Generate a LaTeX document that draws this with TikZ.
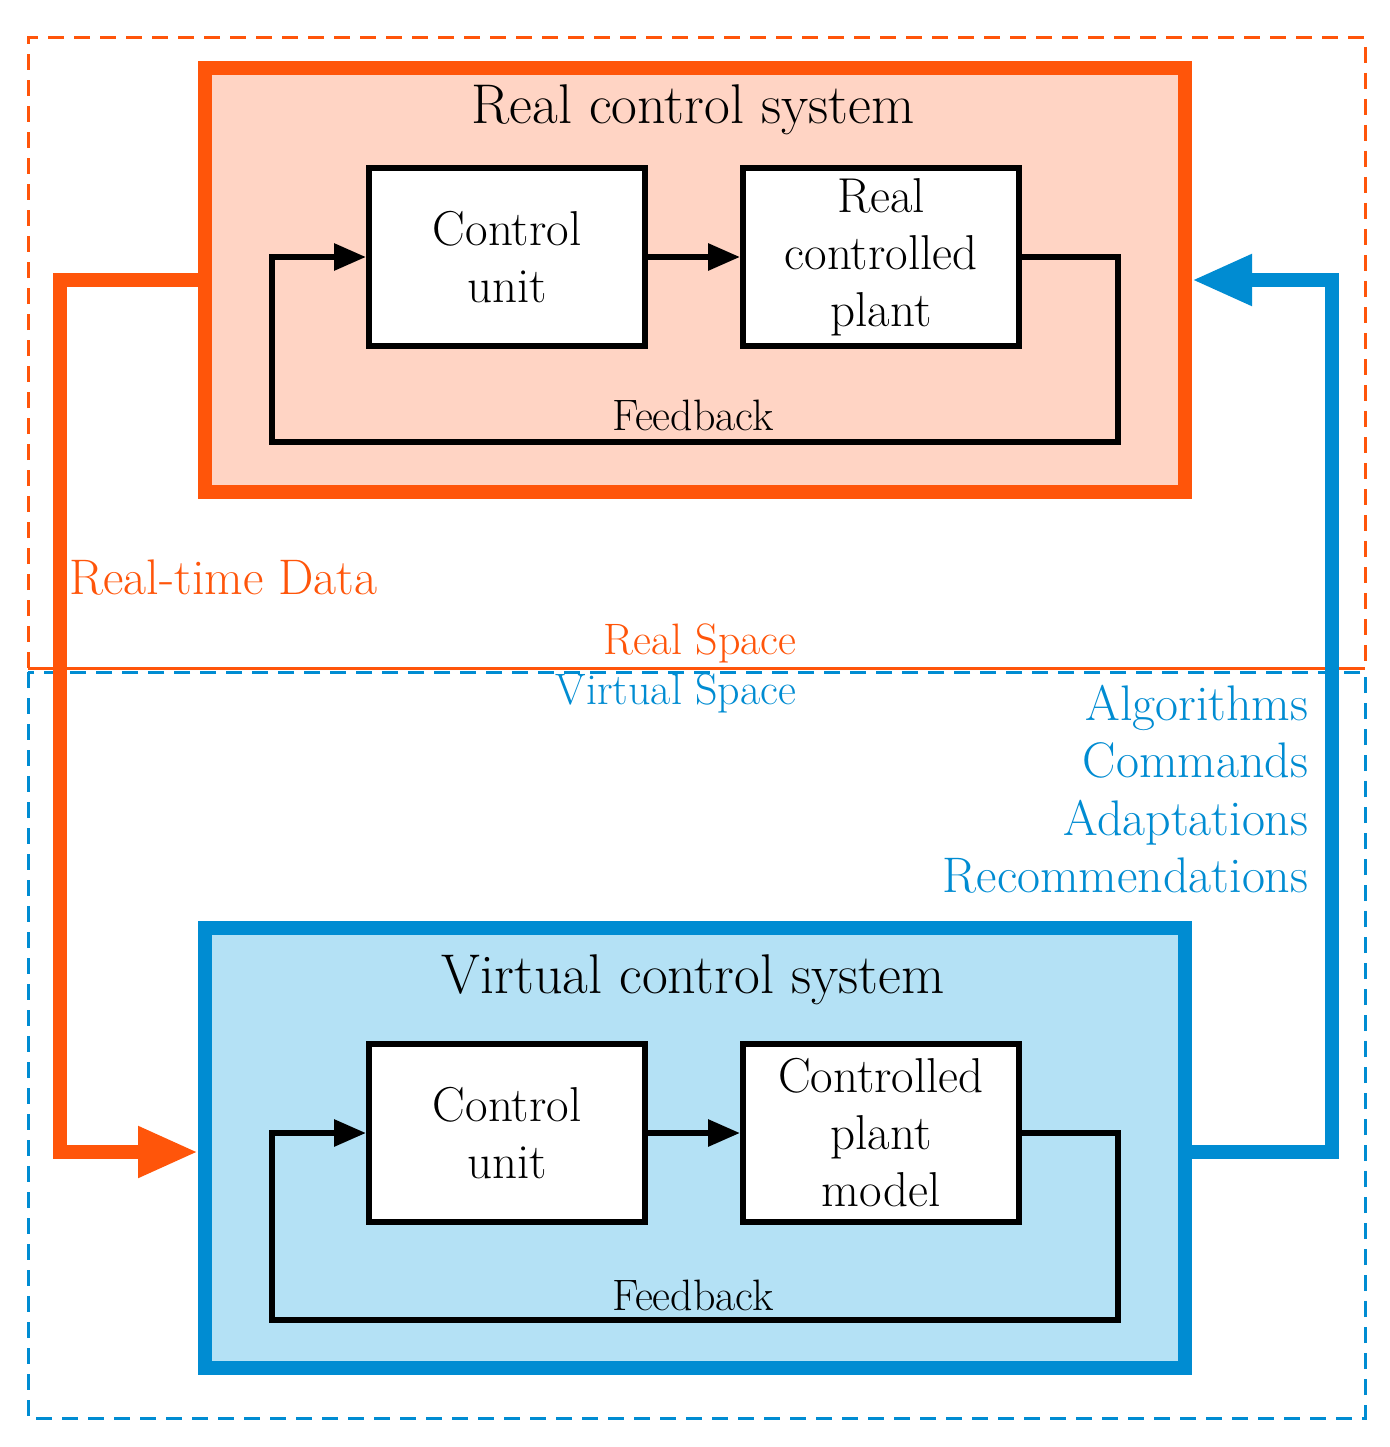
\documentclass[tikz,border=0pt]{standalone}
\usetikzlibrary{arrows.meta}
\definecolor{ora}{RGB}{255,85,10}
\definecolor{peach}{RGB}{255,212,196}
\definecolor{blu}{RGB}{0,140,210}
\definecolor{lblu}{RGB}{180,225,245}
\begin{document}
\begin{tikzpicture}[x=1pt,y=-1pt,
 blk/.style={draw=black,line width=6pt,fill=white,minimum width=276pt,minimum height=178pt,align=center,font=\fontsize{49}{57}\selectfont},
 bl/.style={line width=6pt,-{Triangle[length=32pt,width=26pt]}},
 big/.style={line width=14pt,-{Triangle[length=60pt,width=48pt]}},
 ttl/.style={font=\fontsize{56}{60}\selectfont},
 fb/.style={font=\fontsize{44}{48}\selectfont},
 lab/.style={font=\fontsize{50}{54}\selectfont}]
\useasboundingbox (0,0) rectangle (1389,1447);
\fill[white] (0,0) rectangle (1389,1447);
\draw[ora,line width=3pt,dash pattern=on 16pt off 10pt] (28,668) -- (28,38) -- (1365,38) -- (1365,668);
\draw[ora,line width=3pt] (28,668) -- (1365,668);
\draw[blu,line width=3pt,dash pattern=on 16pt off 10pt] (28,672) rectangle (1365,1418);
% real
\draw[ora,fill=peach,line width=14pt] (205,68) rectangle (1185,492);
\node[ttl] (rt) at (693,110) {Real control system};
\node[blk] (cu1) at (507,257) {Control\\unit};
\node[blk] (rp) at (881,257) {Real\\controlled\\plant};
\draw[bl] (cu1) -- (rp);
\coordinate (f1) at (272,257);
\draw[bl] (rp.east) -- (1118,257) -- (1118,442) -- (272,442) -- (f1) -- (cu1.west);
\node[fb] (fb1) at (693,415) {Feedback};
% virtual
\draw[blu,fill=lblu,line width=14pt] (205,928) rectangle (1185,1368);
\node[ttl] (vt) at (693,980) {Virtual control system};
\node[blk] (cu2) at (507,1133) {Control\\unit};
\node[blk] (vp) at (881,1133) {Controlled\\plant\\model};
\draw[bl] (cu2) -- (vp);
\draw[bl] (vp.east) -- (1118,1133) -- (1118,1320) -- (272,1320) -- (272,1133) -- (cu2.west);
\node[fb] (fb2) at (693,1295) {Feedback};
% big arrows
\coordinate (ra) at (198,280);
\coordinate (rb) at (198,1152);
\coordinate (bA) at (1192,1152);
\coordinate (bB) at (1192,280);
\draw[ora,big] (ra) -- (60,280) -- (60,1152) -- (rb);
\draw[blu,big] (bA) -- (1332,1152) -- (1332,280) -- (bB);
% labels
\node[lab,text=ora,anchor=west] (rtd) at (66,578) {Real-time Data};
\node[fb,text=ora] (rs) at (700,643) {Real Space};
\node[fb,text=blu] (vs) at (676,693) {Virtual Space};
\node[lab,text=blu,anchor=east,align=right,font=\fontsize{50}{57.5}\selectfont] (alg) at (1312,789) {Algorithms\\Commands\\Adaptations\\Recommendations};
\end{tikzpicture}
\end{document}
